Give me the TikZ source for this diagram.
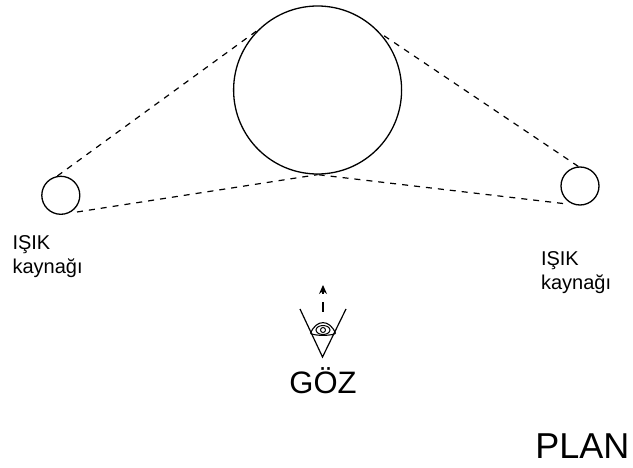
\documentclass[tikz,border=0pt]{standalone}
\usepackage{fontspec}
\setmainfont{Liberation Sans}
\usetikzlibrary{arrows.meta}

\begin{document}
\begin{tikzpicture}[x=1pt,y=-1pt]
        \tikzset{
            ball/.style={draw, circle, line width=1.3pt, inner sep=0pt},
            ray/.style={line width=1.2pt, dash pattern=on 6pt off 6pt},
            label/.style={align=left, anchor=west, font=\fontsize{20}{24}\selectfont}
        }
        \useasboundingbox (0,0) rectangle (633,468);

        \node[ball, minimum size=168pt] (Ball) at (317.6,90) {};
        \node[ball, minimum size=38pt] (LeftLight) at (60.8,195.3) {};
        \node[ball, minimum size=38pt] (RightLight) at (580,186) {};

        \coordinate (LeftEnd) at (77,212);
        \coordinate (RightEnd) at (563,203.5);

        \draw[ray] (LeftLight.100) -- (Ball.135);
        \draw[ray] (RightLight.95) -- (Ball.42);
        \draw[ray] (LeftEnd) -- (Ball.270);
        \draw[ray] (RightEnd) -- (Ball.270);

        \node[label] (LeftText) at (9,257) {IŞIK\\kaynağı};
        \node[label] (RightText) at (537.5,273) {IŞIK\\kaynağı};
        \node[font=\fontsize{31}{36}\selectfont] (Eye) at (323,381) {GÖZ};
        \node[font=\fontsize{36}{40}\selectfont, anchor=east] (Plan) at (633,446) {PLAN};

        % eye
        \coordinate (Tip) at (322.5,357);
        \coordinate (EyeLeft) at (310.5,333.5);
        \coordinate (EyeRight) at (335.5,333.5);
        \draw[line width=1.2pt] (300,309) -- (Tip) -- (346,309);
        \draw[line width=1.1pt] (EyeLeft) .. controls (316,319) and (330,319) .. (EyeRight);
        \draw[line width=1.1pt] (EyeLeft) .. controls (316,336) and (330,336) .. (EyeRight);
        \draw[line width=1pt] (323,330) ellipse (7 and 4.5);
        \draw[line width=1pt] (323,330) circle (2.5);

        \coordinate (LookFrom) at (323,312);
        \coordinate (LookTo) at (323,285);
        \draw[line width=1.2pt, dash pattern=on 10pt off 8pt, -{Stealth[length=9pt,width=8pt]}] (LookFrom) -- (LookTo);

    \end{tikzpicture}
\end{document}
